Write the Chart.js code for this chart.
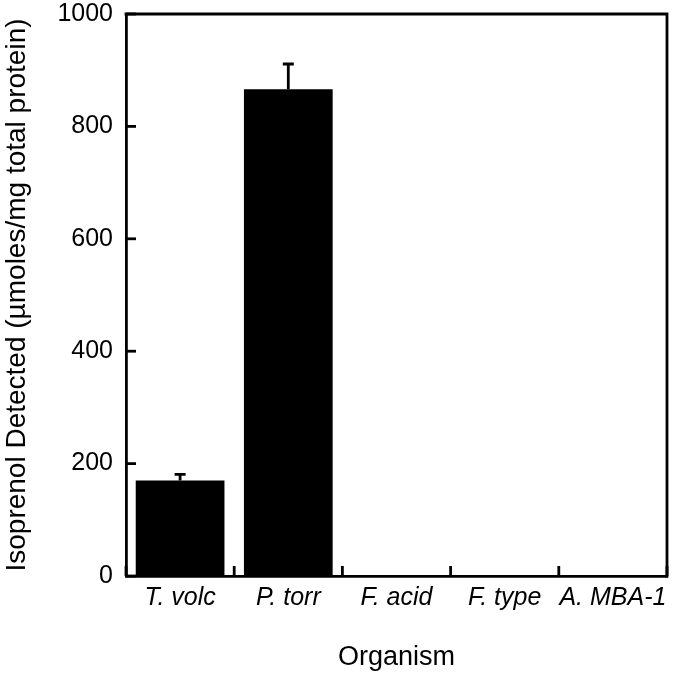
<!DOCTYPE html>
<html>
<head>
<meta charset="utf-8">
<script src="https://cdn.jsdelivr.net/npm/chart.js@4.4.0/dist/chart.umd.min.js"></script>
<style>
  html, body { margin: 0; padding: 0; background: #fff; }
  #wrap { width: 675px; height: 677px; }
</style>
</head>
<body>
<div id="wrap"><canvas id="c" width="675" height="677"></canvas></div>
<script>
const categories = ["T. volc", "P. torr", "F. acid", "F. type", "A. MBA-1"];
const isoprenol = [170, 866, 0, 0, 0];
const errorsUp = [11, 45, 0, 0, 0];
const yTicks = [0, 200, 400, 600, 800, 1000];

const FONT = "'Liberation Sans', Arial, sans-serif";
const LW = 2.8;

const framePlugin = {
  id: 'frame',
  afterDatasetsDraw(chart) {
    const ctx = chart.ctx;
    const x = chart.scales.x, y = chart.scales.y;
    const area = chart.chartArea;
    ctx.save();
    ctx.strokeStyle = '#000';
    ctx.lineWidth = LW;
    ctx.lineCap = 'butt';
    const meta = chart.getDatasetMeta(0);
    meta.data.forEach((bar, i) => {
      const e = errorsUp[i];
      if (!e) return;
      const cx = bar.x;
      const yTop = y.getPixelForValue(isoprenol[i] + e);
      const yBase = y.getPixelForValue(isoprenol[i]);
      ctx.beginPath();
      ctx.moveTo(cx, yBase);
      ctx.lineTo(cx, yTop);
      ctx.moveTo(cx - 5.5, yTop);
      ctx.lineTo(cx + 5.5, yTop);
      ctx.stroke();
    });
    yTicks.forEach(v => {
      const py = y.getPixelForValue(v);
      ctx.beginPath();
      ctx.moveTo(area.left, py);
      ctx.lineTo(area.left + 10, py);
      ctx.stroke();
    });
    for (let k = 0; k <= categories.length; k++) {
      const px = x.getPixelForValue(k - 0.5);
      ctx.beginPath();
      ctx.moveTo(px, area.bottom);
      ctx.lineTo(px, area.bottom - 10);
      ctx.stroke();
    }
    ctx.beginPath();
    ctx.moveTo(area.left - LW / 2, area.top);
    ctx.lineTo(area.right, area.top);
    ctx.lineTo(area.right, area.bottom + LW / 2);
    ctx.stroke();
    ctx.restore();
  }
};

new Chart(document.getElementById('c'), {
  type: 'bar',
  data: {
    labels: categories,
    datasets: [{
      data: isoprenol,
      backgroundColor: '#000',
      borderWidth: 0,
      categoryPercentage: 0.82,
      barPercentage: 1.0
    }]
  },
  options: {
    responsive: false,
    animation: false,
    devicePixelRatio: 1,
    layout: { padding: { top: 14, right: 8, left: 0, bottom: 0 } },
    plugins: { legend: { display: false }, tooltip: { enabled: false } },
    scales: {
      x: {
        grid: { display: false, drawTicks: false },
        border: { display: true, color: '#000', width: LW },
        ticks: { color: '#000', font: { family: FONT, size: 25, style: 'italic' }, padding: 7, maxRotation: 0, autoSkip: false },
        title: { display: true, text: 'Organism', color: '#000', font: { family: FONT, size: 27 }, padding: { top: 0, bottom: 3 } },
        afterFit(s) { s.height = 101; s.paddingLeft = 0; s.paddingRight = 0; }
      },
      y: {
        min: 0, max: 1000,
        grid: { display: false, drawTicks: false },
        border: { display: true, color: '#000', width: LW },
        ticks: { stepSize: 200, color: '#000', font: { family: FONT, size: 25 }, padding: 13, callback: v => String(v) },
        title: { display: true, text: 'Isoprenol Detected (µmoles/mg total protein)', color: '#000', font: { family: FONT, size: 28 }, padding: { top: 0, bottom: 0 } },
        afterFit(s) { s.width = 126; s.paddingTop = 0; s.paddingBottom = 0; }
      }
    }
  },
  plugins: [framePlugin]
});
</script>
</body>
</html>
